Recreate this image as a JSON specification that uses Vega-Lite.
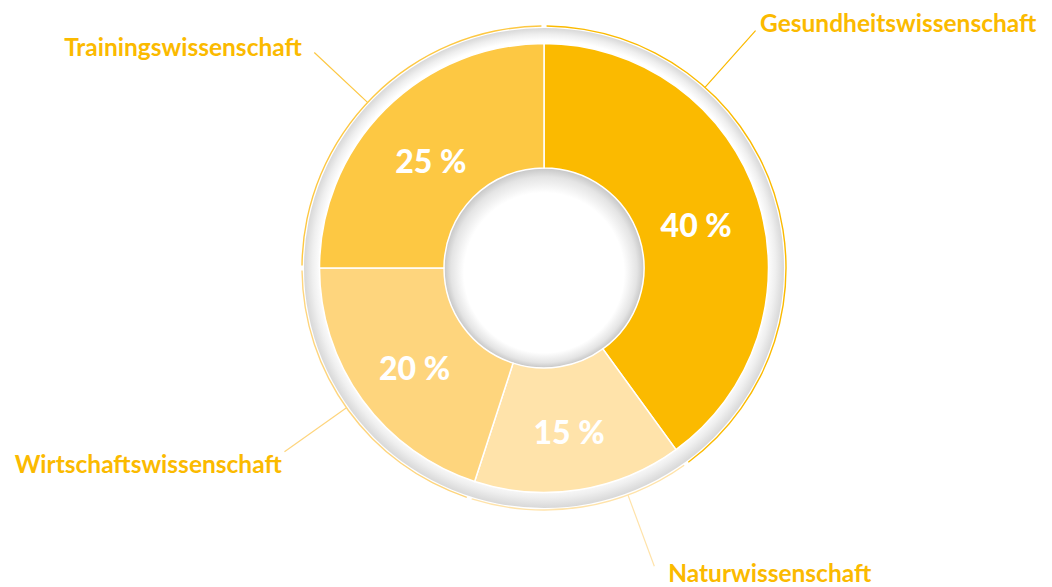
{
  "$schema": "https://vega.github.io/schema/vega-lite/v6.json",
  "width": 600,
  "height": 536,
  "autosize": {"type": "none"},
  "padding": {"left": 244, "top": 0, "right": 208, "bottom": 51},
  "background": "#ffffff",
  "config": {
    "view": {"stroke": null},
    "font": "Lato",
    "locale": {"number": {"decimal": ",", "thousands": ".", "grouping": [3], "currency": ["", " €"], "percent": " %"}}
  },
  "data": {
    "values": [
      {"category": "Gesundheitswissenschaft", "share": 0.40},
      {"category": "Naturwissenschaft", "share": 0.15},
      {"category": "Wirtschaftswissenschaft", "share": 0.20},
      {"category": "Trainingswissenschaft", "share": 0.25}
    ]
  },
  "layer": [
    {
      "data": {"values": [{}]},
      "mark": {"type": "arc", "theta": 0, "theta2": 6.2832, "innerRadius": 224, "outerRadius": 240,
        "color": {"gradient": "radial", "x1": 0.5, "y1": 0.38, "r1": 0, "x2": 0.5, "y2": 0.5, "r2": 0.5,
          "stops": [{"offset": 0, "color": "#ffffff"}, {"offset": 0.93, "color": "#ffffff"}, {"offset": 0.965, "color": "#efefef"}, {"offset": 1, "color": "#d8d8d8"}]}},
      "encoding": {}
    },
    {
      "data": {"values": [{}]},
      "mark": {"type": "arc", "theta": 0, "theta2": 6.2832, "innerRadius": 0, "outerRadius": 100,
        "color": {"gradient": "radial", "x1": 0.5, "y1": 0.62, "r1": 0, "x2": 0.5, "y2": 0.5, "r2": 0.5,
          "stops": [{"offset": 0, "color": "#ffffff"}, {"offset": 0.8, "color": "#ffffff"}, {"offset": 0.93, "color": "#e4e4e4"}, {"offset": 1, "color": "#c6c6c6"}]}},
      "encoding": {}
    },
    {
      "mark": {"type": "arc", "innerRadius": 241.3, "outerRadius": 242.7, "padAngle": 0.015},
      "encoding": {
        "theta": {"field": "share", "type": "quantitative", "stack": true, "scale": {"domain": [0, 1], "range": [2.51327, 8.79646]}},
        "order": {"field": "share", "type": "quantitative", "sort": "ascending"},
        "color": {"field": "category", "type": "nominal", "legend": null,
          "scale": {"domain": ["Gesundheitswissenschaft", "Naturwissenschaft", "Wirtschaftswissenschaft", "Trainingswissenschaft"], "range": ["#FBBA00", "#FFE3AA", "#FED57D", "#FDC843"]}}
      }
    },
    {
      "mark": {"type": "arc", "innerRadius": 100, "outerRadius": 224.5, "stroke": "#ffffff", "strokeWidth": 1.5},
      "encoding": {
        "theta": {"field": "share", "type": "quantitative", "stack": true, "scale": {"domain": [0, 1], "range": [2.51327, 8.79646]}},
        "order": {"field": "share", "type": "quantitative", "sort": "ascending"},
        "color": {"field": "category", "type": "nominal", "legend": null,
          "scale": {"domain": ["Gesundheitswissenschaft", "Naturwissenschaft", "Wirtschaftswissenschaft", "Trainingswissenschaft"], "range": ["#FBBA00", "#FFE3AA", "#FED57D", "#FDC843"]}}
      }
    },
    {
      "mark": {"type": "text", "radius": 160, "dy": 8, "font": "Lato", "fontSize": 32, "fontWeight": 900, "color": "#ffffff", "align": "center", "baseline": "middle"},
      "encoding": {
        "theta": {"field": "share", "type": "quantitative", "stack": true, "scale": {"domain": [0, 1], "range": [2.51327, 8.79646]}},
        "order": {"field": "share", "type": "quantitative", "sort": "ascending"},
        "detail": {"field": "category", "type": "nominal"},
        "text": {"field": "share", "type": "quantitative", "format": ".0%"}
      }
    },
    {
      "transform": [{"filter": "datum.category === 'Gesundheitswissenschaft'"}],
      "mark": {"type": "arc", "theta": 0.7278, "theta2": 0.7278, "innerRadius": 242, "outerRadius": 318, "filled": false, "strokeWidth": 1.2},
      "encoding": {"color": {"field": "category", "type": "nominal", "legend": null,
          "scale": {"domain": ["Gesundheitswissenschaft", "Naturwissenschaft", "Wirtschaftswissenschaft", "Trainingswissenschaft"], "range": ["#FBBA00", "#FFE3AA", "#FED57D", "#FDC843"]}}}
    },
    {
      "transform": [{"filter": "datum.category === 'Trainingswissenschaft'"}],
      "mark": {"type": "arc", "theta": 5.466, "theta2": 5.466, "innerRadius": 242, "outerRadius": 315, "filled": false, "strokeWidth": 1.2},
      "encoding": {"color": {"field": "category", "type": "nominal", "legend": null,
          "scale": {"domain": ["Gesundheitswissenschaft", "Naturwissenschaft", "Wirtschaftswissenschaft", "Trainingswissenschaft"], "range": ["#FBBA00", "#FFE3AA", "#FED57D", "#FDC843"]}}}
    },
    {
      "transform": [{"filter": "datum.category === 'Wirtschaftswissenschaft'"}],
      "mark": {"type": "arc", "theta": 4.0963, "theta2": 4.0963, "innerRadius": 242, "outerRadius": 318, "filled": false, "strokeWidth": 1.2},
      "encoding": {"color": {"field": "category", "type": "nominal", "legend": null,
          "scale": {"domain": ["Gesundheitswissenschaft", "Naturwissenschaft", "Wirtschaftswissenschaft", "Trainingswissenschaft"], "range": ["#FBBA00", "#FFE3AA", "#FED57D", "#FDC843"]}}}
    },
    {
      "transform": [{"filter": "datum.category === 'Naturwissenschaft'"}],
      "mark": {"type": "arc", "theta": 2.7873, "theta2": 2.7873, "innerRadius": 242, "outerRadius": 318, "filled": false, "strokeWidth": 1.2},
      "encoding": {"color": {"field": "category", "type": "nominal", "legend": null,
          "scale": {"domain": ["Gesundheitswissenschaft", "Naturwissenschaft", "Wirtschaftswissenschaft", "Trainingswissenschaft"], "range": ["#FBBA00", "#FFE3AA", "#FED57D", "#FDC843"]}}}
    },
    {
      "transform": [{"filter": "datum.category === 'Gesundheitswissenschaft'"}],
      "mark": {"type": "text", "theta": 0.7411, "radius": 320, "align": "left", "baseline": "alphabetic", "font": "Lato", "fontSize": 24.5, "fontWeight": 700, "color": "#FBBA00"},
      "encoding": {"text": {"field": "category", "type": "nominal"}}
    },
    {
      "transform": [{"filter": "datum.category === 'Trainingswissenschaft'"}],
      "mark": {"type": "text", "theta": 5.4319, "radius": 322, "align": "right", "baseline": "alphabetic", "font": "Lato", "fontSize": 24.5, "fontWeight": 700, "color": "#FBBA00"},
      "encoding": {"text": {"field": "category", "type": "nominal"}}
    },
    {
      "transform": [{"filter": "datum.category === 'Wirtschaftswissenschaft'"}],
      "mark": {"type": "text", "theta": 4.0485, "radius": 333, "align": "right", "baseline": "alphabetic", "font": "Lato", "fontSize": 24.5, "fontWeight": 700, "color": "#FBBA00"},
      "encoding": {"text": {"field": "category", "type": "nominal"}}
    },
    {
      "transform": [{"filter": "datum.category === 'Naturwissenschaft'"}],
      "mark": {"type": "text", "theta": 2.7655, "radius": 338, "align": "left", "baseline": "alphabetic", "font": "Lato", "fontSize": 24.5, "fontWeight": 700, "color": "#FBBA00"},
      "encoding": {"text": {"field": "category", "type": "nominal"}}
    }
  ]
}
